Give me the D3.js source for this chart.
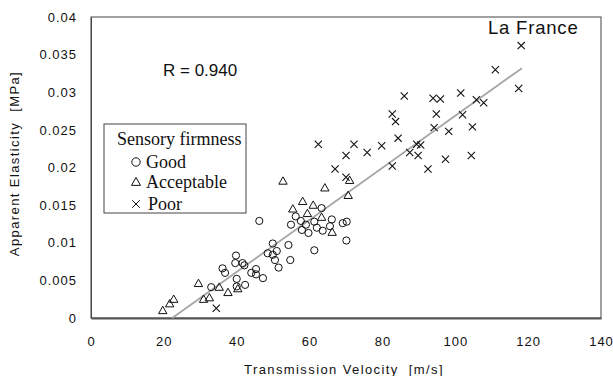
<!DOCTYPE html>
<html>
<head>
<meta charset="utf-8">
<script src="https://cdn.jsdelivr.net/npm/d3@7"></script>
<style>
   body { margin: 0; background: #fff; }
   .tick text { font-family: "Liberation Sans", Arial, sans-serif; font-size: 13px; letter-spacing: 1px; fill: #111; }
   .axisTitle { font-family: "Liberation Sans", Arial, sans-serif; font-size: 13px; letter-spacing: 1.4px; fill: #111; white-space: pre; }
   .legendText { font-family: "Liberation Serif", "Times New Roman", serif; font-size: 18px; fill: #111; white-space: pre; }
</style>
</head>
<body>
<div id="chart"></div>
<script>
//velocity [m/s] and elasticity [MPa]
var goodX = [63.3, 56.2, 57.6, 54.9, 59.0, 61.3, 66.1, 65.6, 70.2, 69.1, 57.9, 59.7, 62.0, 63.6,
             70.1, 54.2, 61.3, 54.7, 51.5, 46.2, 49.9, 48.5, 49.9, 51.0, 50.5, 39.8, 39.6, 41.6,
             42.1, 36.1, 36.8, 44.0, 45.3, 45.3, 47.2, 40.0, 40.0, 42.3, 33.0];
var goodY = [0.0146, 0.0135, 0.0129, 0.0124, 0.0124, 0.0128, 0.0131, 0.0122, 0.0128, 0.0126, 0.0117, 0.0113, 0.0120, 0.0116,
             0.0103, 0.0097, 0.0090, 0.0077, 0.0067, 0.0129, 0.0099, 0.0086, 0.0084, 0.0089, 0.0077, 0.0083, 0.0073, 0.0073,
             0.0070, 0.0066, 0.0060, 0.0060, 0.0065, 0.0058, 0.0053, 0.0052, 0.0042, 0.0044, 0.0041];

var acceptX = [52.7, 64.2, 71.0, 70.6, 58.1, 61.0, 55.4, 59.4, 63.3, 66.2,
               29.5, 35.2, 37.6, 40.3, 30.9, 32.5, 22.7, 21.6, 19.7];
var acceptY = [0.0182, 0.0173, 0.0183, 0.0163, 0.0155, 0.0150, 0.0145, 0.0139, 0.0134, 0.0114,
               0.0046, 0.0041, 0.0034, 0.0039, 0.0025, 0.0027, 0.0025, 0.0019, 0.0010];

var poorX = [118.1, 111.0, 117.4, 86.0, 93.9, 95.9, 101.5, 105.8, 107.8, 82.7, 83.6, 94.8, 102.0,
             94.2, 98.2, 104.7, 84.3, 79.8, 89.4, 90.5, 87.5, 89.8, 82.7, 92.5, 97.3, 104.4,
             62.4, 72.2, 75.8, 70.0, 67.0, 70.0, 34.4];
var poorY = [0.0362, 0.0330, 0.0305, 0.0295, 0.0292, 0.0291, 0.0299, 0.0290, 0.0286, 0.0271, 0.0261, 0.0271, 0.0270,
             0.0253, 0.0248, 0.0254, 0.0239, 0.0229, 0.0231, 0.0230, 0.0220, 0.0216, 0.0202, 0.0198, 0.0211, 0.0216,
             0.0231, 0.0231, 0.0220, 0.0216, 0.0198, 0.0187, 0.0013];

//regression line end points
var fitX = [22.3, 118.3];
var fitY = [0, 0.0332];

var xTicks = [0, 20, 40, 60, 80, 100, 120, 140];
var yTicks = [0, 0.005, 0.01, 0.015, 0.02, 0.025, 0.03, 0.035, 0.04];
var yTickLabels = ["0", "0.005", "0.01", "0.015", "0.02", "0.025", "0.03", "0.035", "0.04"];

var legendLabels = ["Good", "Acceptable", "Poor"];

function main() {
   drawScatter();
}

function drawScatter() {
   var margin = {top: 17, right: 12, bottom: 58, left: 91},
       width = 613 - margin.left - margin.right,
       height = 376 - margin.top - margin.bottom;

   var svg = d3.select("#chart").append("svg")
       .attr("width", 613)
       .attr("height", 376)
     .append("g")
       .attr("transform", "translate(" + margin.left + "," + margin.top + ")");

   var x = d3.scaleLinear().domain([0, 140]).range([0, width]);
   var y = d3.scaleLinear().domain([0, 0.04]).range([height, 0]);

   //frame around the plot
   svg.append("rect")
      .attr("width", width)
      .attr("height", height)
      .attr("fill", "none")
      .attr("stroke", "#444")
      .attr("stroke-width", 1);

   //axes, no tick marks
   var xAxis = d3.axisBottom(x).tickValues(xTicks).tickSize(0).tickPadding(19)
      .tickFormat(d3.format("d"));
   var yAxis = d3.axisLeft(y).tickValues(yTicks).tickSize(0).tickPadding(14)
      .tickFormat(function(d, i) { return yTickLabels[i]; });

   var gx = svg.append("g")
      .attr("transform", "translate(0," + height + ")")
      .call(xAxis);
   gx.select(".domain").attr("stroke", "#555").attr("stroke-width", 2);

   var gy = svg.append("g").call(yAxis);
   gy.select(".domain").attr("stroke", "#444");

   //axis titles
   svg.append("text")
      .attr("class", "axisTitle")
      .attr("x", width / 2 - 2)
      .attr("y", 357)
      .attr("text-anchor", "middle")
      .text("Transmission Velocity  [m/s]");

   svg.append("text")
      .attr("class", "axisTitle")
      .attr("transform", "translate(-72," + (height / 2 - 4) + ") rotate(-90)")
      .attr("text-anchor", "middle")
      .text("Apparent Elasticity  [MPa]");

   //regression line
   svg.append("line")
      .attr("x1", x(fitX[0])).attr("y1", y(fitY[0]))
      .attr("x2", x(fitX[1])).attr("y2", y(fitY[1]))
      .attr("stroke", "#a6a6a6")
      .attr("stroke-width", 1.8);

   //good = circles
   svg.selectAll(".good")
      .data(d3.range(goodX.length))
      .enter().append("circle")
         .attr("class", "good")
         .attr("cx", function(i) { return x(goodX[i]); })
         .attr("cy", function(i) { return y(goodY[i]); })
         .attr("r", 3.6)
         .attr("fill", "none")
         .attr("stroke", "#111")
         .attr("stroke-width", 1);

   //acceptable = triangles
   svg.selectAll(".accept")
      .data(d3.range(acceptX.length))
      .enter().append("path")
         .attr("class", "accept")
         .attr("d", triangle(4.2))
         .attr("transform", function(i) {
            return "translate(" + x(acceptX[i]) + "," + y(acceptY[i]) + ")"; })
         .attr("fill", "none")
         .attr("stroke", "#111")
         .attr("stroke-width", 1);

   //poor = crosses
   svg.selectAll(".poor")
      .data(d3.range(poorX.length))
      .enter().append("path")
         .attr("class", "poor")
         .attr("d", cross(3.6))
         .attr("transform", function(i) {
            return "translate(" + x(poorX[i]) + "," + y(poorY[i]) + ")"; })
         .attr("fill", "none")
         .attr("stroke", "#111")
         .attr("stroke-width", 1.1);

   //annotations
   svg.append("text")
      .attr("x", 72).attr("y", 59)
      .style("font-family", "Liberation Sans, Arial, sans-serif")
      .style("font-size", "17px")
      .attr("fill", "#111")
      .text("R = 0.940");

   svg.append("text")
      .attr("x", 397).attr("y", 17)
      .style("font-family", "Liberation Sans, Arial, sans-serif")
      .style("font-size", "18.5px")
      .style("letter-spacing", "0.8px")
      .attr("fill", "#111")
      .text("La France");

   drawLegend(svg, margin);
}

function drawLegend(svg, margin) {
   var lg = svg.append("g")
      .attr("transform", "translate(" + (104 - margin.left) + "," + (124 - margin.top) + ")");

   lg.append("rect")
      .attr("width", 142)
      .attr("height", 89)
      .attr("fill", "#fff")
      .attr("stroke", "#444")
      .attr("stroke-width", 1);

   lg.append("text")
      .attr("class", "legendText")
      .attr("x", 13).attr("y", 21)
      .text("Sensory firmness");

   var rowY = [38, 58, 80];
   var shapes = [null, triangle(4.5), cross(3.8)];

   for (var i = 0; i < legendLabels.length; i++) {
      if (i == 0) {
         lg.append("circle")
            .attr("cx", 32).attr("cy", rowY[i]).attr("r", 4.2)
            .attr("fill", "none").attr("stroke", "#111");
      } else {
         lg.append("path")
            .attr("d", shapes[i])
            .attr("transform", "translate(32," + rowY[i] + ")")
            .attr("fill", "none").attr("stroke", "#111");
      }
      lg.append("text")
         .attr("class", "legendText")
         .attr("x", i == 2 ? 44 : 42)
         .attr("y", rowY[i] + 6)
         .text(legendLabels[i]);
   }
}

function triangle(s) {
   return "M0," + (-s) + "L" + s + "," + (s * 0.75) + "L" + (-s) + "," + (s * 0.75) + "Z";
}

function cross(s) {
   return "M" + (-s) + "," + (-s) + "L" + s + "," + s + "M" + (-s) + "," + s + "L" + s + "," + (-s);
}

main();
</script>
</body>
</html>
